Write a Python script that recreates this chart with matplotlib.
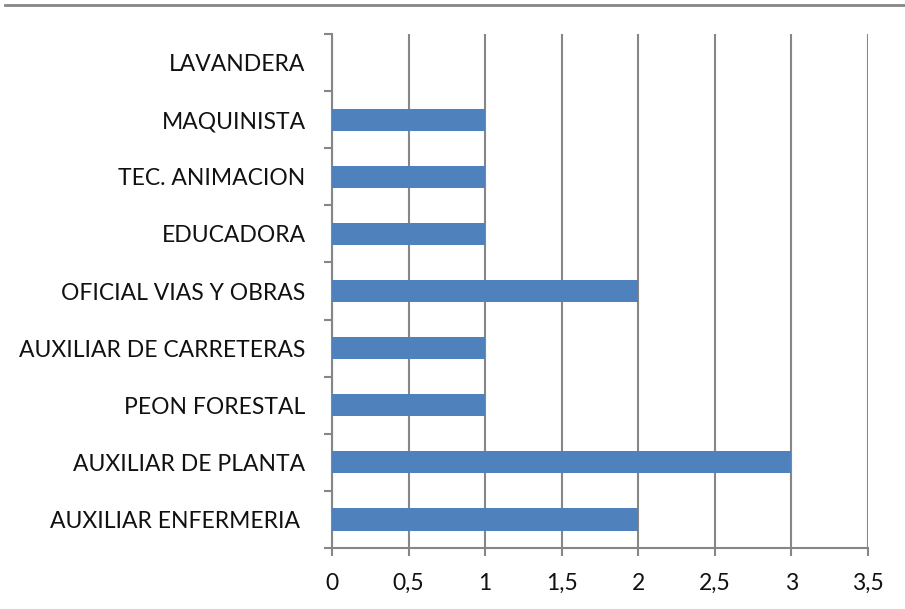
import matplotlib
matplotlib.use("Agg")
import matplotlib.pyplot as plt
from matplotlib.lines import Line2D
import numpy as np

categories = ["AUXILIAR ENFERMERIA ", "AUXILIAR DE PLANTA", "PEON FORESTAL",
              "AUXILIAR DE CARRETERAS", "OFICIAL VIAS Y OBRAS", "EDUCADORA",
              "TEC. ANIMACION", "MAQUINISTA", "LAVANDERA"]
values = [2, 3, 1, 1, 2, 1, 1, 1, 0]
xticks = [0, 0.5, 1, 1.5, 2, 2.5, 3, 3.5]
xticklabels = ["0", "0,5", "1", "1,5", "2", "2,5", "3", "3,5"]

plt.rcParams['font.family'] = ['Lato', 'DejaVu Sans']
GRAY = "#868686"
BLUE = "#4F81BD"

fig = plt.figure(figsize=(9.05, 6.09), dpi=100)
ax = fig.add_axes([332/905, 1-548/609, (868-332)/905, (548-34)/609])

y = np.arange(len(categories))
ax.barh(y, values, height=0.39, color=BLUE, zorder=3)

ax.set_xlim(0, 3.5)
ax.set_ylim(-0.5, len(categories)-0.5)

ax.set_xticks(xticks)
ax.set_xticklabels(xticklabels, fontsize=16.5, color="#111111")
ax.set_yticks(y)
ax.set_yticklabels(categories, fontsize=16.5, color="#111111")
ax.set_yticks(np.arange(-0.5, len(categories), 1), minor=True)

ax.tick_params(axis='x', which='major', length=6, width=1.5, color=GRAY, pad=12)
ax.tick_params(axis='y', which='major', length=0, pad=19)
ax.tick_params(axis='y', which='minor', length=6, width=1.5, color=GRAY)

for s in ['top', 'right']:
    ax.spines[s].set_visible(False)
for s in ['left', 'bottom']:
    ax.spines[s].set_color(GRAY)
    ax.spines[s].set_linewidth(1.5)

ax.grid(axis='x', color=GRAY, linewidth=1.5, zorder=0)
ax.set_axisbelow(True)

fig.add_artist(Line2D([5/905, 1], [1-5/609, 1-5/609], color=GRAY, linewidth=2,
                      transform=fig.transFigure))

fig.savefig("out.png", dpi=100)
